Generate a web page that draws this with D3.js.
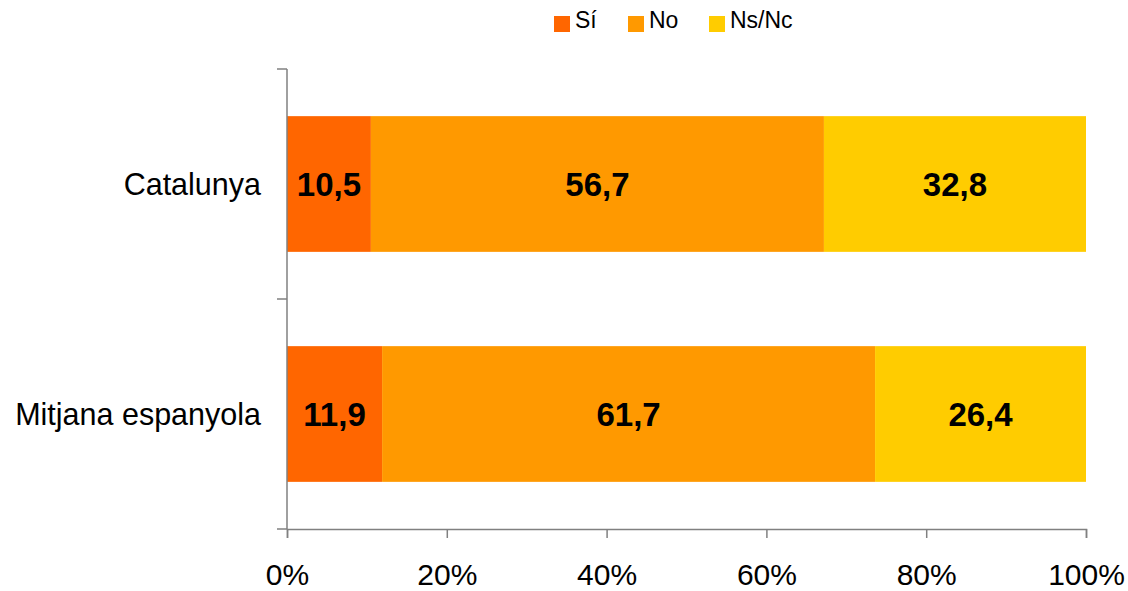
<!DOCTYPE html>
<html><head><meta charset="utf-8">
<script src="https://cdn.jsdelivr.net/npm/d3@7"></script>
<style>body{margin:0;background:#fff}svg{display:block}text{font-family:"Liberation Sans",Arial,sans-serif}</style>
</head><body>
<svg id="c" width="1128" height="591"></svg>
<script>
const categories = ["Catalunya", "Mitjana espanyola"];
const seriesNames = ["Sí", "No", "Ns/Nc"];
const si = [10.5, 11.9];
const no = [56.7, 61.7];
const nsnc = [32.8, 26.4];
const colors = ["#FF6600", "#FF9900", "#FFCC00"];
const xTicks = [0, 20, 40, 60, 80, 100];

const svg = d3.select("#c");
const x = d3.scaleLinear().domain([0, 100]).range([287, 1086]);
const y = d3.scaleBand().domain(categories).range([69, 529]).paddingInner(0.41).paddingOuter(0.205);

const rows = categories.map((c, i) => ({cat: c, "Sí": si[i], "No": no[i], "Ns/Nc": nsnc[i]}));
const stack = d3.stack().keys(seriesNames)(rows);

const g = svg.append("g");
stack.forEach((s, k) => {
  g.selectAll(null).data(s).enter().append("rect")
    .attr("x", d => x(d[0])).attr("y", d => y(d.data.cat))
    .attr("width", d => x(d[1]) - x(d[0])).attr("height", y.bandwidth())
    .attr("fill", colors[k]);
  g.selectAll(null).data(s).enter().append("text")
    .attr("x", d => (x(d[0]) + x(d[1])) / 2)
    .attr("y", d => y(d.data.cat) + y.bandwidth() / 2)
    .attr("dy", "0.36em").attr("text-anchor", "middle")
    .attr("font-size", 33).attr("font-weight", "bold").attr("fill", "#000")
    .text(d => d3.format(".1f")(d[1] - d[0]).replace(".", ","));
});

const axisColor = "#808080";
// y axis
svg.append("line").attr("x1", 287).attr("x2", 287).attr("y1", 69).attr("y2", 529).attr("stroke", axisColor).attr("stroke-width", 1.5);
[69, 299, 529].forEach(v => svg.append("line").attr("x1", 277).attr("x2", 287).attr("y1", v).attr("y2", v).attr("stroke", axisColor).attr("stroke-width", 1.5));
categories.forEach(c => svg.append("text").attr("x", 261).attr("y", y(c) + y.bandwidth() / 2).attr("dy", "0.36em")
  .attr("text-anchor", "end").attr("font-size", 30.5).attr("fill", "#000").text(c));

// x axis
const xa = svg.append("g").attr("transform", "translate(0,529)")
  .call(d3.axisBottom(x).tickValues(xTicks).tickSize(9).tickFormat(d => d + "%"));
xa.select(".domain").attr("stroke", axisColor).attr("stroke-width", 1.5);
xa.selectAll(".tick line").attr("stroke", axisColor).attr("stroke-width", 1.5);
xa.selectAll(".tick text").attr("font-size", 30).attr("fill", "#000").attr("y", 56).attr("dy", "0")
  .attr("font-family", "'Liberation Sans',Arial,sans-serif");

// legend
const legX = [554, 628, 709];
seriesNames.forEach((n, i) => {
  svg.append("rect").attr("x", legX[i]).attr("y", 16).attr("width", 16).attr("height", 16).attr("fill", colors[i]);
  svg.append("text").attr("x", legX[i] + 21).attr("y", 28).attr("font-size", 23).attr("fill", "#000").text(n);
});
</script>
</body></html>
